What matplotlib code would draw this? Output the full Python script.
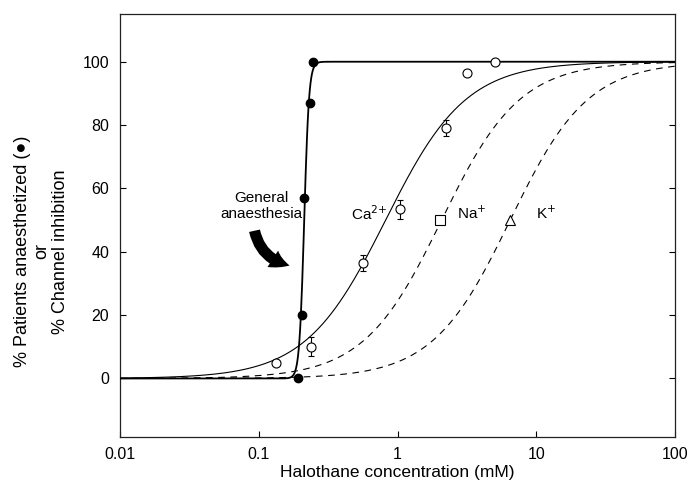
import numpy as np
import matplotlib.pyplot as plt
from matplotlib.patches import FancyArrowPatch

plt.rcParams['font.family'] = ['Liberation Sans', 'DejaVu Sans']

# patients anaesthetized (filled circles)
patients_x = [0.191, 0.206, 0.210, 0.232, 0.245]
patients_y = [0, 20, 57, 87, 100]

# Ca2+ channel inhibition (open circles)
ca_x = [0.133, 0.236, 0.562, 1.05, 2.22, 3.16, 5.06]
ca_y = [5, 10, 36.5, 53.5, 79, 96.4, 100]
ca_err = [0, 3, 2.5, 3, 2.5, 0, 0]

# Na+ and K+ half-inhibition points
na_x, na_y = [2.04], [50]
k_x, k_y = [6.5], [50]

# Hill fits: (EC50 mM, slope)
fit_patients = (0.212, 25)
fit_ca = (0.82, 1.5)
fit_na = (2.08, 1.54)
fit_k = (6.5, 1.55)

xticks = [0.01, 0.1, 1, 10, 100]
xticklabels = ['0.01', '0.1', '1', '10', '100']
yticks = [0, 20, 40, 60, 80, 100]


def hill(x, ec50, n):
    return 100.0 / (1.0 + (ec50 / x) ** n)


fig = plt.figure(figsize=(6.92, 4.90), dpi=100)
ax = fig.add_axes([0.174, 0.108, 0.801, 0.863])

xs = np.logspace(-2, 2, 800)
ax.plot(xs, hill(xs, *fit_patients), color='black', lw=1.3, zorder=3)
ax.plot(xs, hill(xs, *fit_ca), color='black', lw=0.8)
ax.plot(xs, hill(xs, *fit_na), color='black', lw=0.8, ls=(0, (6, 5)))
ax.plot(xs, hill(xs, *fit_k), color='black', lw=0.8, ls=(0, (6, 5)))

ax.plot(patients_x, patients_y, 'o', color='black', ms=6, zorder=4)
ax.errorbar(ca_x, ca_y, yerr=ca_err, fmt='o', mfc='white', mec='black',
            ecolor='black', ms=6.5, mew=0.8, elinewidth=0.8, capsize=2.5,
            capthick=0.8, zorder=5)
ax.plot(na_x, na_y, 's', mfc='white', mec='black', ms=6.5, mew=0.8, zorder=5)
ax.plot(k_x, k_y, '^', mfc='white', mec='black', ms=7, mew=0.8, zorder=5)

ax.text(0.62, 52, r'Ca$^{2{+}}$', fontsize=11, ha='center', va='center')
ax.text(3.42, 52, r'Na$^{+}$', fontsize=11, ha='center', va='center')
ax.text(11.7, 52, r'K$^{+}$', fontsize=11, ha='center', va='center')
ax.text(0.104, 54.5, 'General\nanaesthesia', fontsize=11, ha='center',
        va='center', linespacing=1.15)

arrow = FancyArrowPatch((0.092, 47.5), (0.174, 35.5),
                        connectionstyle='arc3,rad=0.35',
                        arrowstyle='simple,head_width=14,head_length=13,tail_width=8',
                        color='black', lw=0, zorder=4)
ax.add_patch(arrow)

ax.set_xscale('log')
ax.set_xlim(0.01, 100)
ax.set_ylim(-18.5, 115)
ax.set_xticks(xticks)
ax.set_xticklabels(xticklabels)
ax.minorticks_off()
ax.set_yticks(yticks)
ax.tick_params(direction='in', length=4, width=0.8, labelsize=11.5, pad=7,
               right=True)
ax.tick_params(axis='y', pad=8)
for s in ax.spines.values():
    s.set_linewidth(0.9)
    s.set_color('#222222')

ax.set_xlabel('Halothane concentration (mM)', fontsize=12.5, labelpad=2)
fig.text(0.060, 0.487, '% Patients anaesthetized (\u25cf)\nor\n% Channel inhibition',
         rotation=90, ha='center', va='center', multialignment='center',
         fontsize=13, linespacing=1.15)

fig.savefig('out.png', dpi=100)
